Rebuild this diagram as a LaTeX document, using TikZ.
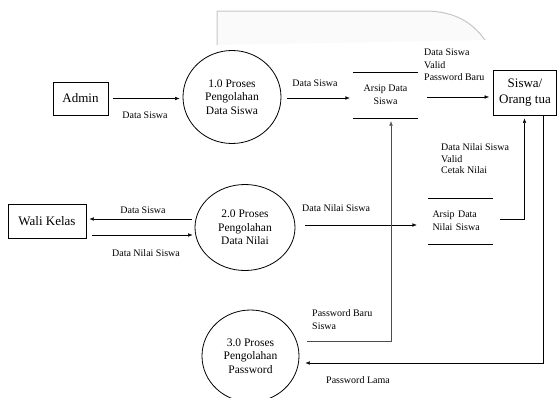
\documentclass[tikz,border=0pt]{standalone}
\usepackage{fontspec}
\setmainfont{Liberation Serif}
\usepackage{tikz}
\usetikzlibrary{positioning, arrows.meta, shapes.geometric}

\tikzset{
  entity/.style={draw, thick, rectangle, inner sep=0pt, font=\fontsize{13}{16}\selectfont, align=center},
  proc/.style={draw, thick, ellipse, inner sep=0pt, font=\fontsize{11.5}{13.5}\selectfont, align=center},
  store/.style={inner sep=0pt, font=\fontsize{10}{13}\selectfont},
  flow/.style={-{Latex[length=4.5pt,width=3.5pt]}, thin},
  lbl/.style={inner sep=0pt, font=\fontsize{10}{12.5}\selectfont, align=left}
}

\begin{document}
\begin{tikzpicture}[x=1pt, y=-1pt]
\useasboundingbox (0,0) rectangle (557,397);

% grey frame at the top
\draw[gray!45, fill=gray!4, line width=1pt] (217,45) -- (217,11) -- (428,11) .. controls (455,12) and (472,22) .. (485,40);

\node[entity, minimum width=55pt, minimum height=33pt] (admin) at (80.5,98.5) {Admin};
\node[entity, minimum width=78pt, minimum height=34pt] (wali) at (47,221) {Wali Kelas};
\node[entity, minimum width=63pt, minimum height=45pt] (siswa) at (525,92.5) {Siswa/\\Orang tua};

\node[proc, minimum width=98pt, minimum height=93pt] (p1) at (232,97) {1.0 Proses\\Pengolahan\\Data Siswa};
\node[proc, minimum width=100pt, minimum height=86pt] (p2) at (245,227.5) {2.0 Proses\\Pengolahan\\Data Nilai};
\node[proc, minimum width=97pt, minimum height=92pt] (p3) at (250.5,356) {3.0 Proses\\Pengolahan\\Password};

\node[store, minimum width=65pt, minimum height=46pt, align=center] (ds) at (385.5,95) {Arsip Data\\Siswa};
\draw[thin] (ds.north west) -- (ds.north east);
\draw[thin] (ds.south west) -- (ds.south east);
\node[store, minimum width=65pt, minimum height=46pt, text width=56pt, align=left] (dn) at (460.5,221) {Arsip Data\\Nilai Siswa};
\draw[thin] (dn.north west) -- (dn.north east);
\draw[thin] (dn.south west) -- (dn.south east);

% flows
\draw[flow] ([shift={(5pt,0pt)}]admin.east) -- ([shift={(-3pt,0pt)}]p1.west |- admin.east);
\node[lbl] at (145,115) {Data Siswa};

\draw[flow] ([shift={(6pt,-1pt)}]p1.east) -- ([shift={(-3pt,-1pt)}]ds.west |- p1.east);
\node[lbl] at (315,83) {Data Siswa};

\draw[flow] ([shift={(9pt,-2pt)}]ds.east) -- ([shift={(-4pt,-4.5pt)}]siswa.west);
\node[lbl, anchor=west] at (424,65) {Data Siswa\\Valid\\Password Baru};

\draw[flow] ([shift={(-3pt,8.5pt)}]p2.west) -- ([shift={(3pt,2pt)}]wali.east);
\node[lbl] at (143,210) {Data Siswa};
\draw[flow] ([shift={(6pt,-14pt)}]wali.east) -- ([shift={(-2pt,-7.5pt)}]p2.west);
\node[lbl] at (146,253) {Data Nilai Siswa};

\draw[flow] ([shift={(10pt,2.5pt)}]p2.east) -- ([shift={(-11pt,-4pt)}]dn.west);
\node[lbl, anchor=west] at (302,208) {Data Nilai Siswa};

\draw[flow] ([shift={(7pt,2pt)}]dn.east) -| ([shift={(-0.5pt,-3pt)}]siswa.south);
\node[lbl, anchor=west, font=\fontsize{10}{11.5}\selectfont] at (441,159) {Data Nilai Siswa\\Valid\\Cetak Nilai};

\draw[flow, black!70] ([shift={(8pt,15pt)}]p3.east) -| ([shift={(5.5pt,-3pt)}]ds.south);
\node[lbl, anchor=west] at (312,319.5) {Password Baru\\Siswa};

\draw[flow] ([shift={(-14pt,0pt)}]siswa.south east) |- ([shift={(6pt,-7pt)}]p3.east);
\node[lbl, anchor=west] at (326,380) {Password Lama};
\end{tikzpicture}
\end{document}
